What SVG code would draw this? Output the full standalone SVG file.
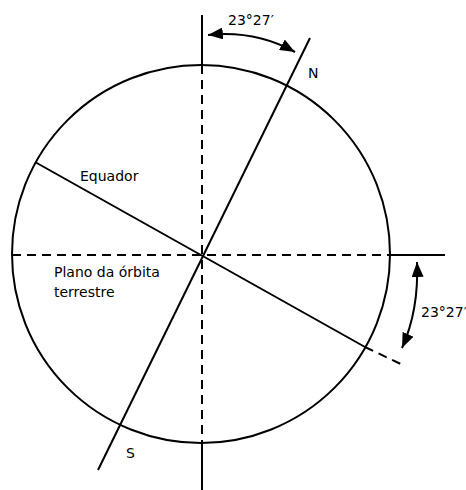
<svg xmlns="http://www.w3.org/2000/svg" width="466" height="490" viewBox="0 0 466 490">
<style>
.s{stroke:#000;stroke-width:2;fill:none}
.d{stroke:#000;stroke-width:2;fill:none;stroke-dasharray:9 6}
.t{font-family:"DejaVu Sans",Verdana,sans-serif;font-size:14px;fill:#000}
</style>
<defs>
<marker id="ah" markerUnits="userSpaceOnUse" markerWidth="16" markerHeight="12" refX="15" refY="6" orient="auto-start-reverse">
<path d="M0,0 L15,6 L0,12 z" fill="#000"/>
</marker>
</defs>
<rect width="466" height="490" fill="#fff"/>
<g id="circle"><circle class="s" cx="201" cy="254" r="189"/></g>
<g id="connectors">
<line class="s" x1="202" y1="15" x2="202" y2="65"/>
<line class="d" x1="202" y1="65" x2="202" y2="443"/>
<line class="s" x1="202" y1="443" x2="202" y2="490"/>
<line class="d" x1="12" y1="255" x2="390" y2="255"/>
<line class="s" x1="390" y1="255" x2="445" y2="255"/>
<line class="s" x1="98" y1="470" x2="310" y2="38"/>
<line class="s" x1="35" y1="162" x2="365" y2="347"/>
<line class="d" x1="365" y1="347" x2="405" y2="366"/>
<path class="s" d="M208 35 Q255 30 295 52" marker-start="url(#ah)" marker-end="url(#ah)"/>
<path class="s" d="M417 262 Q419 310 402 348" marker-start="url(#ah)" marker-end="url(#ah)"/>
</g>
<g id="labels">
<text class="t" x="228" y="25">23°27′</text>
<text class="t" x="421" y="317">23°27′</text>
<text class="t" x="308" y="78">N</text>
<text class="t" x="126" y="458">S</text>
<text class="t" x="80" y="181">Equador</text>
<text class="t" x="54" y="277">Plano da órbita</text>
<text class="t" x="54" y="297">terrestre</text>
</g>
</svg>
